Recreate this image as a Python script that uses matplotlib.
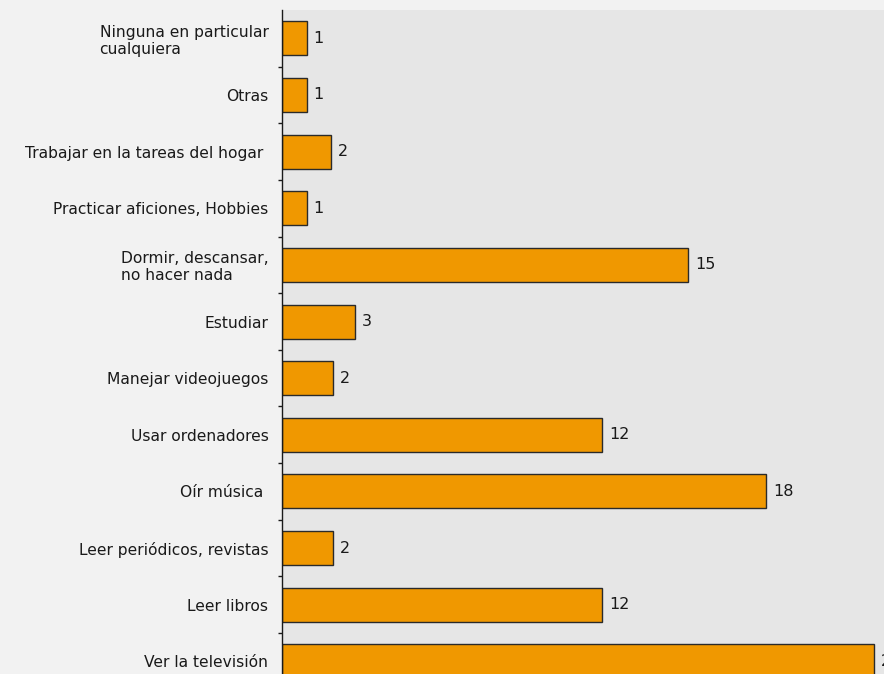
import numpy as np
import matplotlib
matplotlib.use('Agg')
import matplotlib.pyplot as plt
from matplotlib.ticker import FixedLocator


categories = [
    'Ninguna en particular\ncualquiera',
    'Otras',
    'Trabajar en la tareas del hogar ',
    'Practicar aficiones, Hobbies',
    'Dormir, descansar,\nno hacer nada',
    'Estudiar',
    'Manejar videojuegos',
    'Usar ordenadores',
    'Oír música ',
    'Leer periódicos, revistas',
    'Leer libros',
    'Ver la televisión',
]
values = [0.9, 0.9, 1.8, 0.9, 15.1, 2.7, 1.9, 11.9, 18.0, 1.9, 11.9, 22.0]

BAR_COLOR = '#f09800'
EDGE_COLOR = '#2a2a2a'
FIG_BG = '#f2f2f2'
AX_BG = '#e6e6e6'

plt.rcParams['font.family'] = ['DejaVu Sans']

fig = plt.figure(figsize=(8.84, 6.74), dpi=100, facecolor=FIG_BG)
W, H = 884, 674
left_px, top_px, step_px = 282.3, 10.0, 56.64
n = len(categories)
ax_h = n * step_px
ax = fig.add_axes([left_px / W, 1 - (top_px + ax_h) / H, (W - left_px) / W, ax_h / H])
ax.set_facecolor(AX_BG)

y = np.arange(n)
bars = ax.barh(y, values, height=0.6, color=BAR_COLOR, edgecolor=EDGE_COLOR, linewidth=1.0)
ax.bar_label(bars, fmt='%.0f', padding=5, fontsize=11.5, color='#1a1a1a')

ax.set_ylim(n - 0.5, -0.5)
ax.set_xlim(0, 22.37)

# ticks sit on the category boundaries, labels in the middle
ax.yaxis.set_major_locator(FixedLocator(np.arange(1, n + 1) - 0.5))
ax.yaxis.set_major_formatter(plt.NullFormatter())
ax.yaxis.set_minor_locator(FixedLocator(y))
ax.set_yticklabels(categories, minor=True, fontsize=11.2, color='#1a1a1a',
                   multialignment='left', linespacing=1.15)
ax.tick_params(axis='y', which='major', length=3, width=1, direction='out', color='#1a1a1a')
ax.tick_params(axis='y', which='minor', length=0, pad=10)

ax.set_xticks([])
for side in ('top', 'right', 'bottom'):
    ax.spines[side].set_visible(False)
ax.spines['left'].set_color('#1a1a1a')
ax.spines['left'].set_linewidth(1.0)

fig.savefig('out.png', dpi=100, facecolor=FIG_BG)
